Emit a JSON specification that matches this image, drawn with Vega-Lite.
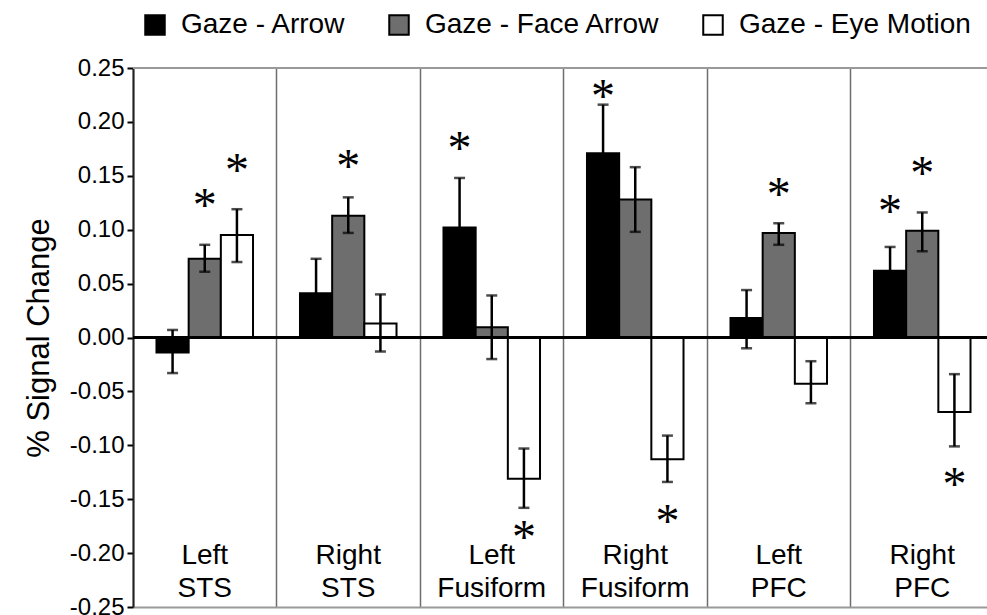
{
  "$schema": "https://vega.github.io/schema/vega-lite/v6.json",
  "width": 854,
  "height": 539,
  "autosize": {"type": "none"},
  "padding": {"left": 133, "top": 68, "right": 0, "bottom": 8},
  "background": "white",
  "config": {"view": {"stroke": null}, "font": "Liberation Sans"},
  "datasets": {
    "bars": [
      {"region": "Left STS", "cond": "Gaze - Arrow", "value": -0.014, "lo": -0.033, "hi": 0.007},
      {"region": "Left STS", "cond": "Gaze - Face Arrow", "value": 0.073, "lo": 0.061, "hi": 0.086},
      {"region": "Left STS", "cond": "Gaze - Eye Motion", "value": 0.095, "lo": 0.070, "hi": 0.119},
      {"region": "Right STS", "cond": "Gaze - Arrow", "value": 0.041, "lo": 0.009, "hi": 0.073},
      {"region": "Right STS", "cond": "Gaze - Face Arrow", "value": 0.113, "lo": 0.097, "hi": 0.130},
      {"region": "Right STS", "cond": "Gaze - Eye Motion", "value": 0.013, "lo": -0.013, "hi": 0.040},
      {"region": "Left Fusiform", "cond": "Gaze - Arrow", "value": 0.102, "lo": 0.056, "hi": 0.148},
      {"region": "Left Fusiform", "cond": "Gaze - Face Arrow", "value": 0.0095, "lo": -0.020, "hi": 0.039},
      {"region": "Left Fusiform", "cond": "Gaze - Eye Motion", "value": -0.131, "lo": -0.158, "hi": -0.103},
      {"region": "Right Fusiform", "cond": "Gaze - Arrow", "value": 0.171, "lo": 0.126, "hi": 0.216},
      {"region": "Right Fusiform", "cond": "Gaze - Face Arrow", "value": 0.128, "lo": 0.098, "hi": 0.158},
      {"region": "Right Fusiform", "cond": "Gaze - Eye Motion", "value": -0.113, "lo": -0.134, "hi": -0.091},
      {"region": "Left PFC", "cond": "Gaze - Arrow", "value": 0.018, "lo": -0.010, "hi": 0.044},
      {"region": "Left PFC", "cond": "Gaze - Face Arrow", "value": 0.097, "lo": 0.086, "hi": 0.106},
      {"region": "Left PFC", "cond": "Gaze - Eye Motion", "value": -0.043, "lo": -0.061, "hi": -0.022},
      {"region": "Right PFC", "cond": "Gaze - Arrow", "value": 0.062, "lo": 0.040, "hi": 0.084},
      {"region": "Right PFC", "cond": "Gaze - Face Arrow", "value": 0.099, "lo": 0.080, "hi": 0.116},
      {"region": "Right PFC", "cond": "Gaze - Eye Motion", "value": -0.069, "lo": -0.101, "hi": -0.034}
    ],
    "stars": [
      {"region": "Left STS", "cond": "Gaze - Face Arrow", "y": 0.132},
      {"region": "Left STS", "cond": "Gaze - Eye Motion", "y": 0.165},
      {"region": "Right STS", "cond": "Gaze - Face Arrow", "y": 0.168},
      {"region": "Left Fusiform", "cond": "Gaze - Arrow", "y": 0.185},
      {"region": "Left Fusiform", "cond": "Gaze - Eye Motion", "y": -0.176},
      {"region": "Right Fusiform", "cond": "Gaze - Arrow", "y": 0.233},
      {"region": "Right Fusiform", "cond": "Gaze - Eye Motion", "y": -0.161},
      {"region": "Left PFC", "cond": "Gaze - Face Arrow", "y": 0.142},
      {"region": "Right PFC", "cond": "Gaze - Arrow", "y": 0.127},
      {"region": "Right PFC", "cond": "Gaze - Face Arrow", "y": 0.162},
      {"region": "Right PFC", "cond": "Gaze - Eye Motion", "y": -0.127}
    ],
    "labels": [
      {"region": "Left STS", "label": "Left\nSTS"},
      {"region": "Right STS", "label": "Right\nSTS"},
      {"region": "Left Fusiform", "label": "Left\nFusiform"},
      {"region": "Right Fusiform", "label": "Right\nFusiform"},
      {"region": "Left PFC", "label": "Left\nPFC"},
      {"region": "Right PFC", "label": "Right\nPFC"}
    ]
  },
  "encoding": {
    "x": {
      "field": "region",
      "type": "nominal",
      "sort": ["Left STS", "Right STS", "Left Fusiform", "Right Fusiform", "Left PFC", "Right PFC"],
      "scale": {"range": [0, 861], "paddingInner": 0, "paddingOuter": 0},
      "axis": {
        "title": null,
        "labels": false,
        "ticks": false,
        "grid": true,
        "gridColor": "#6e6e6e",
        "gridWidth": 1.5,
        "bandPosition": 0,
        "domain": true,
        "domainColor": "#999999",
        "domainWidth": 2
      }
    }
  },
  "layer": [
    {
      "data": {"name": "bars"},
      "mark": {"type": "bar", "stroke": "black", "strokeWidth": 2},
      "encoding": {
        "xOffset": {
          "field": "cond",
          "type": "nominal",
          "sort": ["Gaze - Arrow", "Gaze - Face Arrow", "Gaze - Eye Motion"],
          "scale": {"paddingOuter": 0.73, "paddingInner": 0}
        },
        "y": {
          "field": "value",
          "type": "quantitative",
          "title": "% Signal Change",
          "scale": {"domain": [-0.25, 0.25], "nice": false, "zero": true},
          "axis": {
            "values": [-0.25, -0.2, -0.15, -0.1, -0.05, 0, 0.05, 0.1, 0.15, 0.2, 0.25],
            "labelExpr": "replace(format(datum.value, '.2f'), '\u2212', '-')",
            "grid": false,
            "tickSize": 6,
            "tickWidth": 2,
            "tickColor": "black",
            "domainColor": "#222222",
            "domainWidth": 2,
            "labelFontSize": 24,
            "labelColor": "black",
            "labelPadding": 3,
            "titleFontSize": 31,
            "titleFontWeight": "normal",
            "titleColor": "black",
            "titlePadding": 14
          }
        },
        "color": {
          "field": "cond",
          "type": "nominal",
          "sort": ["Gaze - Arrow", "Gaze - Face Arrow", "Gaze - Eye Motion"],
          "scale": {"domain": ["Gaze - Arrow", "Gaze - Face Arrow", "Gaze - Eye Motion"], "range": ["black", "#6e6e6e", "white"]},
          "legend": {
            "orient": "none",
            "legendX": 8,
            "legendY": -57,
            "direction": "horizontal",
            "title": null,
            "padding": 0,
            "symbolType": "square",
            "symbolSize": 380,
            "symbolStrokeColor": "black",
            "symbolStrokeWidth": 2,
            "symbolOpacity": 1,
            "labelFontSize": 28,
            "labelLimit": 400,
            "labelColor": "black",
            "labelOffset": 12,
            "columnPadding": 39
          }
        }
      }
    },
    {
      "data": {"name": "bars"},
      "mark": {"type": "rule", "color": "black", "strokeWidth": 2.5},
      "encoding": {
        "xOffset": {"field": "cond", "type": "nominal", "sort": ["Gaze - Arrow", "Gaze - Face Arrow", "Gaze - Eye Motion"]},
        "y": {"field": "lo", "type": "quantitative", "title": "% Signal Change"},
        "y2": {"field": "hi"}
      }
    },
    {
      "data": {"name": "bars"},
      "mark": {"type": "tick", "color": "black", "size": 11, "thickness": 2.5, "orient": "horizontal"},
      "encoding": {
        "xOffset": {"field": "cond", "type": "nominal", "sort": ["Gaze - Arrow", "Gaze - Face Arrow", "Gaze - Eye Motion"]},
        "y": {"field": "lo", "type": "quantitative", "title": "% Signal Change"}
      }
    },
    {
      "data": {"name": "bars"},
      "mark": {"type": "tick", "color": "black", "size": 11, "thickness": 2.5, "orient": "horizontal"},
      "encoding": {
        "xOffset": {"field": "cond", "type": "nominal", "sort": ["Gaze - Arrow", "Gaze - Face Arrow", "Gaze - Eye Motion"]},
        "y": {"field": "hi", "type": "quantitative", "title": "% Signal Change"}
      }
    },
    {
      "data": {"name": "bars"},
      "mark": {"type": "rule", "color": "black", "strokeWidth": 2},
      "encoding": {
        "x": null,
        "y": {"datum": 0, "type": "quantitative"}
      }
    },
    {
      "data": {"name": "bars"},
      "mark": {"type": "rule", "color": "#999999", "strokeWidth": 2},
      "encoding": {
        "x": null,
        "y": {"datum": 0.25, "type": "quantitative"}
      }
    },
    {
      "data": {"name": "stars"},
      "mark": {"type": "text", "text": "*", "font": "Liberation Serif", "fontSize": 48, "baseline": "middle", "align": "center", "dy": 12, "color": "black"},
      "encoding": {
        "xOffset": {"field": "cond", "type": "nominal", "sort": ["Gaze - Arrow", "Gaze - Face Arrow", "Gaze - Eye Motion"]},
        "y": {"field": "y", "type": "quantitative", "title": "% Signal Change"}
      }
    },
    {
      "data": {"name": "labels"},
      "mark": {"type": "text", "fontSize": 28, "lineBreak": "\n", "lineHeight": 33, "baseline": "middle", "align": "center", "color": "black"},
      "encoding": {
        "y": {"datum": -0.2028, "type": "quantitative"},
        "text": {"field": "label"}
      }
    }
  ]
}
